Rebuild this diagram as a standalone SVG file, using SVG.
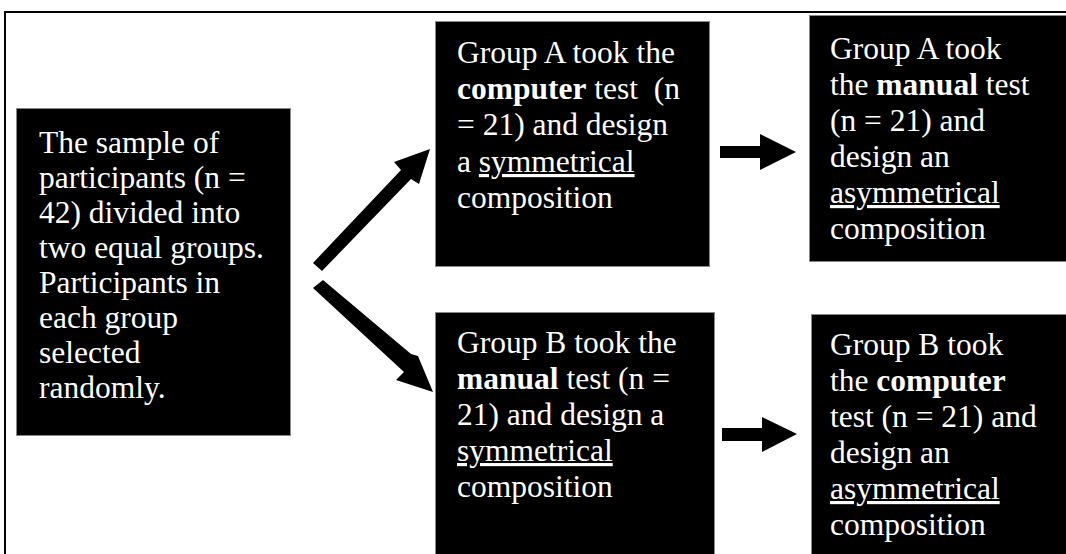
<svg xmlns="http://www.w3.org/2000/svg" width="1066" height="554" viewBox="0 0 1066 554">
<style>
.box{fill:#000;stroke:#888;stroke-width:1}
.t{font-family:"Liberation Serif","Times New Roman",serif;font-size:31.5px;fill:#fff}
.b{font-weight:bold}
.u{text-decoration:underline}
.arr{fill:#000}
</style>
<rect x="0" y="0" width="1066" height="554" fill="#fff"/>
<path d="M5 560 V12 H1070" fill="none" stroke="#000" stroke-width="2"/>
<g id="node-sample">
<rect class="box" x="16.5" y="108.5" width="274" height="327"/>
<text class="t" x="39"><tspan x="39" y="153">The sample of</tspan><tspan x="39" y="188">participants (n =</tspan><tspan x="39" y="223">42) divided into</tspan><tspan x="39" y="258">two equal groups.</tspan><tspan x="39" y="293">Participants in</tspan><tspan x="39" y="328">each group</tspan><tspan x="39" y="363">selected</tspan><tspan x="39" y="398">randomly.</tspan></text>
</g>
<g id="node-a1">
<rect class="box" x="435.5" y="21.5" width="274" height="245"/>
<text class="t"><tspan x="457" y="63">Group A took the</tspan><tspan x="457" y="99"><tspan class="b">computer</tspan> test&#160; (n</tspan><tspan x="457" y="135">= 21) and design</tspan><tspan x="457" y="172">a <tspan class="u">symmetrical</tspan></tspan><tspan x="457" y="208">composition</tspan></text>
</g>
<g id="node-a2">
<rect class="box" x="809.5" y="15.5" width="270" height="246"/>
<text class="t"><tspan x="830" y="59">Group A took</tspan><tspan x="830" y="95">the <tspan class="b">manual</tspan> test</tspan><tspan x="830" y="131">(n = 21) and</tspan><tspan x="830" y="167">design an</tspan><tspan x="830" y="203" class="u">asymmetrical</tspan><tspan x="830" y="239">composition</tspan></text>
</g>
<g id="node-b1">
<rect class="box" x="435.5" y="312.5" width="279" height="260"/>
<text class="t"><tspan x="457" y="353">Group B took the</tspan><tspan x="457" y="389"><tspan class="b">manual</tspan> test (n =</tspan><tspan x="457" y="425">21) and design a</tspan><tspan x="457" y="461" class="u">symmetrical</tspan><tspan x="457" y="497">composition</tspan></text>
</g>
<g id="node-b2">
<rect class="box" x="811.5" y="314.5" width="270" height="260"/>
<text class="t"><tspan x="830" y="355">Group B took</tspan><tspan x="830" y="391">the <tspan class="b">computer</tspan></tspan><tspan x="830" y="427">test (n = 21) and</tspan><tspan x="830" y="463">design an</tspan><tspan x="830" y="499" class="u">asymmetrical</tspan><tspan x="830" y="535">composition</tspan></text>
</g>
<g id="connectors">
<polygon class="arr" points="313,263 322,271 411,179 419,184 430,149 394,162 401,170"/>
<polygon class="arr" points="313,288 323,280 411,354 418,356 433,392 396,380 404,372"/>
<polygon class="arr" points="720,146 760,146 760,134 796,152 760,170 760,158 720,158"/>
<polygon class="arr" points="722,428 762,428 762,417 797,434 762,452 762,441 722,441"/>
</g>
</svg>
